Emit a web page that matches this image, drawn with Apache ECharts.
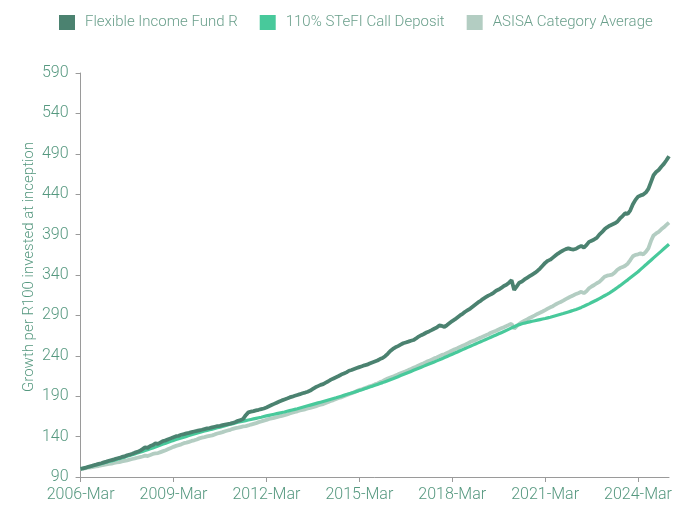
<!DOCTYPE html>
<html>
<head>
<meta charset="utf-8">
<script src="https://cdn.jsdelivr.net/npm/echarts@6/dist/echarts.min.js"></script>
<style>html,body{margin:0;padding:0;background:#fff}#c{width:675px;height:505px}</style>
</head>
<body>
<div id="c"></div>
<script>
// Month labels from 2006-Mar to 2025-Mar
const monthNames = ['Jan','Feb','Mar','Apr','May','Jun','Jul','Aug','Sep','Oct','Nov','Dec'];
const categories = [];
for (let y = 2006, mo = 2; !(y === 2025 && mo > 2); ) {
  categories.push(y + '-' + monthNames[mo]);
  mo++; if (mo === 12) { mo = 0; y++; }
}

const seriesNames = ['Flexible Income Fund R', '110% STeFI Call Deposit', 'ASISA Category Average'];
const yTicks = [90, 140, 190, 240, 290, 340, 390, 440, 490, 540, 590];

const fundValues = [
  100, 100.8, 101.5, 102.6, 103.4, 104.5, 105.3, 106.2, 107.0, 108.1, 109.0, 110.1,
  111.0, 111.8, 112.9, 113.6, 114.8, 115.5, 116.9, 117.6, 118.8, 120.1, 121.0, 122.4,
  124.5, 126.8, 126.0, 128.3, 129.5, 131.6, 131.0, 132.8, 134.5, 135.4, 136.8, 137.9,
  139.2, 140.5, 141.0, 142.3, 143.1, 144.0, 144.6, 145.5, 146.3, 147.0, 147.8, 148.5,
  149.3, 150.1, 150.6, 151.5, 152.2, 152.9, 153.3, 154.1, 154.8, 155.4, 156.0, 156.9,
  158.0, 159.5, 160.3, 162.0, 166.5, 170.0, 170.8, 171.6, 172.5, 173.2, 174.0, 174.8,
  176.0, 177.5, 179.0, 180.5, 182.0, 183.5, 184.8, 186.0, 187.2, 188.5, 189.4, 190.5,
  191.5, 192.5, 193.6, 194.5, 195.6, 197.0, 199.0, 201.0, 202.5, 204.0, 205.0, 206.8,
  208.5, 210.5, 212.0, 213.5, 215.0, 216.8, 218.0, 219.5, 221.5, 222.4, 223.6, 224.8,
  226.0, 227.0, 228.2, 229.0, 230.5, 231.8, 233.0, 234.2, 236.0, 237.2, 239.5, 242.5,
  246.0, 248.5, 250.5, 252.0, 253.8, 255.5, 256.5, 257.5, 258.6, 259.5, 261.5, 263.8,
  265.5, 267.0, 268.8, 270.2, 271.8, 273.5, 275.0, 277.5, 277.0, 275.8, 278.0, 280.5,
  283.0, 285.0, 287.5, 290.0, 292.0, 294.5, 296.5, 298.5, 301.0, 303.5, 306.0, 308.0,
  310.5, 312.5, 314.5, 316.0, 318.0, 320.5, 322.0, 324.0, 326.5, 328.0, 330.5, 333.5,
  321.5, 326.0, 330.5, 332.0, 334.5, 336.5, 338.5, 340.5, 342.5, 345.0, 348.0, 351.5,
  355.0, 357.5, 359.0, 361.5, 364.0, 366.5, 368.5, 370.5, 372.0, 373.0, 372.0, 371.5,
  372.5, 374.5, 376.0, 374.0, 377.0, 381.0, 382.5, 384.0, 386.0, 390.0, 393.0, 396.5,
  399.0, 401.0, 402.5, 404.0, 406.0, 410.0, 413.0, 416.5, 415.5, 420.0, 427.5, 433.0,
  437.0, 438.5, 439.5, 442.0, 446.5, 455.0, 463.5, 467.5, 470.0, 474.0, 477.5, 482.0, 487.0
];

const stefiValues = [
  100, 100.8, 101.6, 102.4, 103.2, 104.0, 104.8, 105.6, 106.4, 107.3, 108.2, 109.1,
  110.0, 110.9, 111.8, 112.7, 113.6, 114.6, 115.6, 116.6, 117.6, 118.6, 119.6, 120.6,
  121.6, 122.7, 123.8, 124.9, 126.0, 127.1, 128.3, 129.5, 130.7, 131.9, 133.0, 134.2,
  135.3, 136.3, 137.3, 138.3, 139.3, 140.3, 141.3, 142.3, 143.2, 144.1, 145.0, 146.0,
  146.9, 147.7, 148.5, 149.3, 150.1, 150.9, 151.7, 152.5, 153.4, 154.3, 155.2, 156.1,
  157.0, 157.7, 158.4, 159.1, 159.8, 160.5, 161.2, 161.9, 162.6, 163.3, 164.0, 164.8,
  165.6, 166.3, 167.0, 167.7, 168.4, 169.1, 169.8, 170.5, 171.3, 172.1, 172.9, 173.7,
  174.5, 175.4, 176.3, 177.2, 178.1, 179.0, 179.9, 180.8, 181.7, 182.6, 183.5, 184.4,
  185.3, 186.2, 187.1, 188.0, 189.0, 190.0, 191.0, 192.0, 193.0, 194.0, 195.0, 196.0,
  197.0, 198.0, 199.1, 200.2, 201.3, 202.4, 203.5, 204.6, 205.7, 206.8, 208.0, 209.2,
  210.4, 211.6, 212.9, 214.2, 215.5, 216.8, 218.1, 219.4, 220.7, 222.0, 223.3, 224.6,
  225.9, 227.2, 228.5, 229.8, 231.1, 232.4, 233.7, 235.0, 236.4, 237.8, 239.2, 240.6,
  242.0, 243.4, 244.8, 246.2, 247.6, 249.0, 250.4, 251.8, 253.2, 254.6, 256.0, 257.4,
  258.8, 260.2, 261.6, 263.0, 264.4, 265.8, 267.2, 268.6, 270.0, 271.5, 273.0, 274.5,
  276.0, 277.4, 278.6, 279.6, 280.5, 281.3, 282.0, 282.7, 283.4, 284.1, 284.8, 285.5,
  286.2, 287.0, 287.8, 288.7, 289.6, 290.5, 291.4, 292.3, 293.3, 294.3, 295.3, 296.3,
  297.4, 298.6, 299.9, 301.3, 302.8, 304.3, 305.9, 307.5, 309.1, 310.8, 312.5, 314.3,
  316.1, 318.0, 320.0, 322.2, 324.5, 326.8, 329.2, 331.6, 334.0, 336.5, 339.0, 341.5,
  344.0, 346.9, 349.8, 352.6, 355.5, 358.3, 361.2, 364.0, 366.8, 369.6, 372.4, 375.2, 378.0
];

const asisaValues = [
  100, 100.2, 100.9, 101.5, 102.0, 102.6, 103.2, 103.6, 104.3, 104.9, 105.5, 106.1,
  106.6, 107.4, 108.0, 108.5, 109.4, 110.0, 110.6, 111.5, 112.3, 113.0, 113.8, 114.6,
  115.4, 116.4, 116.0, 117.2, 118.5, 119.1, 119.6, 120.8, 122.0, 123.2, 124.6, 126.0,
  127.3, 128.5, 129.4, 130.4, 131.8, 132.5, 133.5, 134.6, 135.4, 136.5, 137.8, 138.7,
  139.4, 140.2, 141.0, 141.5, 142.7, 143.8, 144.6, 145.5, 146.6, 147.5, 148.4, 149.6,
  150.4, 151.0, 151.8, 152.6, 153.0, 153.8, 154.9, 155.8, 156.7, 157.9, 158.8, 159.8,
  160.6, 161.8, 162.6, 163.3, 164.0, 164.9, 165.7, 166.5, 167.4, 168.6, 169.5, 170.5,
  171.3, 172.3, 173.0, 173.8, 174.9, 175.6, 176.4, 177.3, 178.6, 179.4, 180.2, 181.6,
  182.8, 184.3, 185.2, 186.5, 187.8, 188.6, 190.0, 191.3, 192.5, 193.6, 195.0, 196.4,
  197.8, 198.6, 199.9, 201.0, 202.3, 203.2, 204.6, 205.8, 207.4, 208.6, 210.3, 211.8,
  213.1, 214.2, 215.6, 217.0, 218.3, 219.6, 220.8, 222.3, 223.6, 225.1, 226.4, 228.0,
  229.4, 230.8, 232.5, 233.7, 235.3, 236.8, 238.0, 239.6, 241.2, 241.9, 243.6, 245.0,
  246.6, 248.2, 249.3, 251.0, 252.4, 253.7, 255.4, 257.0, 258.3, 259.6, 261.2, 262.5,
  264.0, 265.3, 266.7, 268.5, 269.8, 271.0, 272.6, 274.2, 275.4, 276.8, 278.3, 279.6,
  273.5, 276.8, 279.5, 281.6, 283.4, 285.0, 286.8, 288.4, 290.0, 291.8, 293.2, 294.8,
  296.5, 298.3, 300.0, 301.4, 303.5, 305.2, 306.6, 308.3, 310.2, 311.8, 313.5, 315.0,
  316.6, 317.8, 319.2, 317.5, 320.0, 323.5, 325.8, 327.6, 329.8, 331.5, 334.5, 337.8,
  339.2, 339.8, 340.5, 343.0, 346.5, 348.6, 349.8, 351.5, 354.0, 358.5, 363.2, 365.0,
  365.6, 366.8, 365.5, 368.5, 373.0, 382.0, 389.0, 391.5, 393.5, 396.5, 399.0, 402.0, 404.8
];

const colors = ['#4b8270', '#48c99b', '#b3cdc2'];
const textColor = '#55987f';
const fontFamily = 'Roboto, sans-serif';

const chart = echarts.init(document.getElementById('c'), null, { renderer: 'canvas' });
chart.setOption({
  animation: false,
  color: colors,
  textStyle: { fontFamily: fontFamily },
  legend: {
    top: 10, left: 54,
    icon: 'rect', itemWidth: 16, itemHeight: 15, itemGap: 22,
    textStyle: { color: '#6a9f8b', fontSize: 15, fontWeight: 300, fontFamily: fontFamily, padding: [0, 0, 0, 5] },
    data: seriesNames
  },
  grid: { left: 80.6, right: 5, top: 73, bottom: 28, containLabel: false },
  xAxis: {
    type: 'category', data: categories, boundaryGap: false,
    axisLine: { lineStyle: { color: '#9a9a9a', width: 1 } },
    axisTick: { show: true, interval: 35, length: 5, lineStyle: { color: '#9a9a9a' } },
    axisLabel: { interval: 35, color: textColor, fontSize: 16, fontWeight: 300, margin: 10, fontFamily: fontFamily },
    splitLine: { show: false }
  },
  yAxis: {
    type: 'value', min: 90, max: 590,
    name: 'Growth per R100 invested at inception',
    nameLocation: 'middle', nameGap: 44, nameMoveOverlap: false,
    nameTextStyle: { color: textColor, fontSize: 15, fontWeight: 300, fontFamily: fontFamily, padding: [0, 0, 0, 16] },
    axisLine: { show: true, lineStyle: { color: '#9a9a9a', width: 1 } },
    axisTick: { show: true, length: 5, customValues: yTicks, lineStyle: { color: '#9a9a9a' } },
    axisLabel: { customValues: yTicks, color: textColor, fontSize: 16, fontWeight: 300, margin: 12, fontFamily: fontFamily },
    splitLine: { show: false }
  },
  series: [
    { name: seriesNames[0], type: 'line', data: fundValues, showSymbol: false, z: 4,
      lineStyle: { width: 3.8, color: colors[0] } },
    { name: seriesNames[1], type: 'line', data: stefiValues, showSymbol: false, z: 3,
      lineStyle: { width: 3.2, color: colors[1] } },
    { name: seriesNames[2], type: 'line', data: asisaValues, showSymbol: false, z: 2,
      lineStyle: { width: 3.8, color: colors[2] } }
  ]
});
</script>
</body>
</html>
